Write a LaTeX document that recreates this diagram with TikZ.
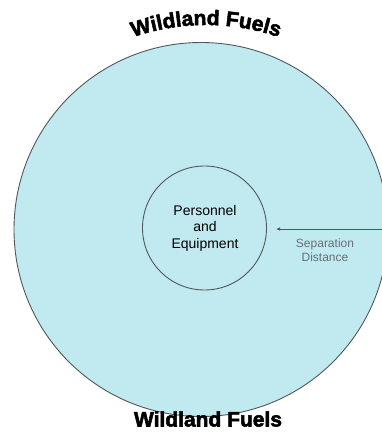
\documentclass[tikz,border=0pt]{standalone}
\usepackage{fontspec}
\setmainfont{Liberation Sans}
\newfontfamily\heavyfont[UprightFont=* Bold,FakeBold=2.5]{Liberation Sans}
\usetikzlibrary{decorations.text,arrows.meta}
\definecolor{zonefill}{RGB}{192,234,240}
\definecolor{edgegray}{RGB}{80,88,92}
\definecolor{labelgray}{RGB}{100,112,118}
\tikzset{
  zone/.style={circle,draw=edgegray,line width=0.9pt,fill=zonefill,inner sep=0pt},
  maintext/.style={font=\fontsize{14}{16.5}\selectfont,align=center,text=black},
  sidetext/.style={font=\fontsize{12}{14}\selectfont,align=center,text=labelgray},
  fuels/.style={font=\heavyfont\fontsize{21}{21}\selectfont,text=black},
  sepline/.style={draw=edgegray,line width=0.8pt,-{Latex[length=4pt,width=3.5pt]}}
}
\begin{document}
\begin{tikzpicture}[x=1pt,y=1pt]
\useasboundingbox (0,0) rectangle (382,440);
\clip (0,0) rectangle (382,440);
\node[zone,minimum size=374pt] (outer) at (201,210.5) {};
\node[zone,minimum size=124pt] (inner) at (204.5,212) {};
\node[maintext] (pe) at (205,212) {Personnel\\and\\Equipment};
\coordinate (edge) at (382,211);
\coordinate (tip) at (276,211);
\draw[sepline] (edge) -- (tip);
\node[sidetext] (sep) at (325,190) {Separation\\Distance};
\path[decorate,decoration={text along path,text align=center,
  text format delimiters={|}{|},
  text={|\heavyfont\fontsize{21}{21}\selectfont|Wildland Fuels}}]
  (206,190) ++(122:225) arc[start angle=122,end angle=58,radius=225];
\node[fuels] (bottom) at (208,21) {Wildland Fuels};
\end{tikzpicture}
\end{document}
